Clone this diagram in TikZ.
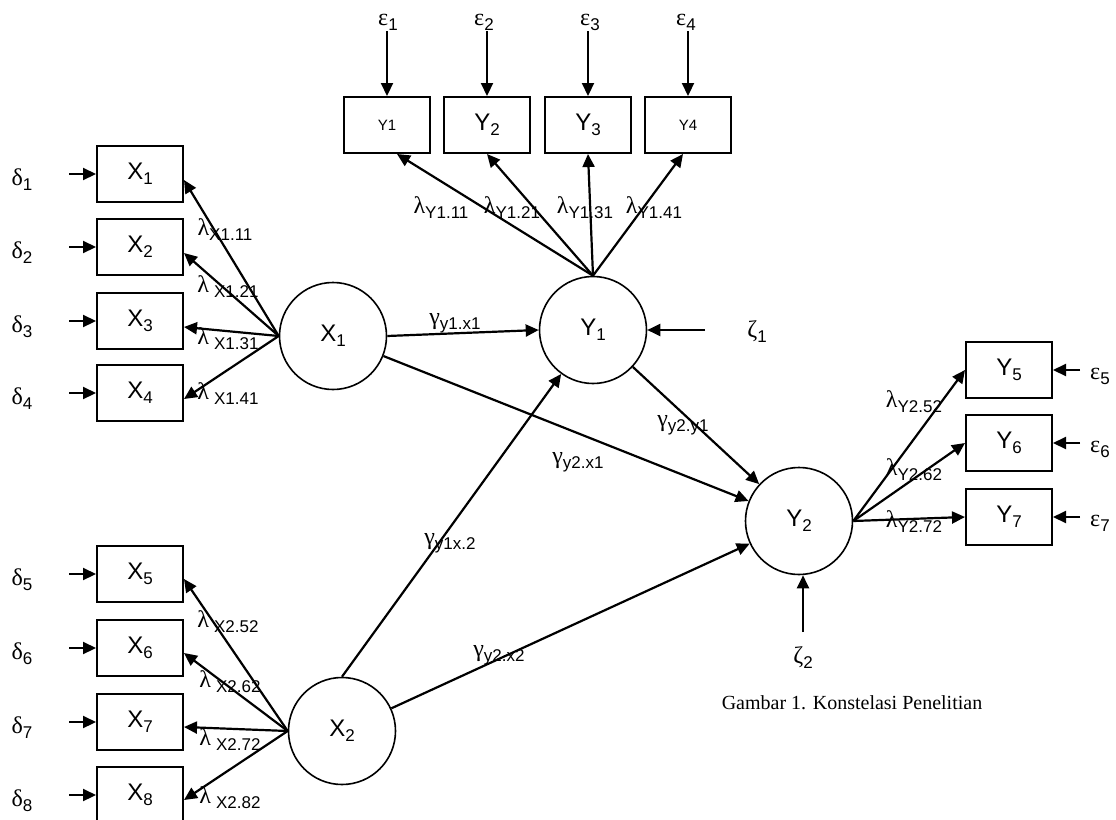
\documentclass[tikz,border=0pt]{standalone}
\usepackage{fontspec}
\setmainfont{Liberation Sans}
\newfontfamily\grkfont{Liberation Serif}
\usetikzlibrary{arrows.meta,positioning}

% greek letter, subscript and box label
\newcommand{\gk}[1]{{\grkfont\fontsize{24}{26}\selectfont #1}}
\newcommand{\lo}[1]{\raisebox{-5pt}{\fontsize{17}{19}\selectfont #1}}
\newcommand{\lam}[1]{\gk{λ}\lo{#1}}
\newcommand{\lams}[1]{\gk{λ}\hspace{5pt}\lo{#1}}
\newcommand{\gam}[1]{\gk{γ}\lo{#1}}
\newcommand{\bl}[2]{{\fontsize{24}{28}\selectfont #1}\raisebox{-5pt}{\fontsize{17}{19}\selectfont #2}}

\begin{document}
\begin{tikzpicture}[x=1pt,y=-1pt,
  mvar/.style={draw, line width=2pt, minimum width=86pt, minimum height=56pt, inner sep=0pt},
  lvar/.style={draw, circle, line width=1.6pt, minimum size=107pt, inner sep=0pt},
  arr/.style={-{Triangle[length=13pt,width=12pt]}, line width=2.2pt},
  lbl/.style={inner sep=1pt}]
  \useasboundingbox (0,0) rectangle (1116,819);

  % latent variables
  \node[lvar] (lx1) at (333,336) {\bl{X}{1}};
  \node[lvar] (lx2) at (342,731) {\bl{X}{2}};
  \node[lvar] (ly1) at (593,330) {\bl{Y}{1}};
  \node[lvar] (ly2) at (799,521) {\bl{Y}{2}};

  % X indicators
  \foreach \i/\y in {1/174,2/247,3/321,4/393,5/574,6/648,7/722,8/795} {
    \node[mvar] (x\i) at (140,\y) {\bl{X}{\i}};
    \node[lbl] (d\i) at (22,\y+6) {\gk{δ}\lo{\i}};
    \draw[arr] ([xshift=-27pt]x\i.west) -- (x\i.west);
  }
  \foreach \i in {1,...,4}
    \draw[arr] (lx1.west) -- ([yshift=-6pt]x\i.east);
  \foreach \i in {5,...,8}
    \draw[arr] (lx2.west) -- ([yshift=-5pt]x\i.east);

  \node[lbl] (lx11) at (225,230) {\lam{X1.11}};
  \node[lbl] (lx21) at (228,287) {\lams{X1.21}};
  \node[lbl] (lx31) at (228,339) {\lams{X1.31}};
  \node[lbl] (lx41) at (228,394) {\lams{X1.41}};
  \node[lbl] (lx52) at (228,622) {\lams{X2.52}};
  \node[lbl] (lx62) at (230,682) {\lams{X2.62}};
  \node[lbl] (lx72) at (230,740) {\lams{X2.72}};
  \node[lbl] (lx82) at (230,798) {\lams{X2.82}};

  % Y1 indicators
  \node[mvar] (y1) at (387,125) {\raisebox{-6pt}{\fontsize{15}{17}\selectfont Y1}};
  \node[mvar] (y2) at (487,125) {\bl{Y}{2}};
  \node[mvar] (y3) at (588,125) {\bl{Y}{3}};
  \node[mvar] (y4) at (688,125) {\raisebox{-6pt}{\fontsize{15}{17}\selectfont Y4}};
  \foreach \i/\x in {1/388,2/484,3/590,4/686} {
    \node[lbl] (e\i) at (\x,22) {\gk{ε}\lo{\i}};
    \draw[arr] (y\i.north |- e\i.south) -- (y\i.north);
  }
  \draw[arr] (ly1.north) -- ([xshift=10pt]y1.south);
  \draw[arr] (ly1.north) -- (y2.south);
  \draw[arr] (ly1.north) -- (y3.south);
  \draw[arr] (ly1.north) -- ([xshift=-5pt]y4.south);
  \node[lbl] (ly11) at (441,208) {\lam{Y1.11}};
  \node[lbl] (ly21) at (512,208) {\lam{Y1.21}};
  \node[lbl] (ly31) at (585,208) {\lam{Y1.31}};
  \node[lbl] (ly41) at (654,208) {\lam{Y1.41}};

  % Y2 indicators
  \foreach \i/\y in {5/370,6/443,7/517} {
    \node[mvar] (y\i) at (1009,\y) {\bl{Y}{\i}};
    \node[lbl] (e\i) at (1100,\y+6) {\gk{ε}\lo{\i}};
    \draw[arr] ([xshift=27pt]y\i.east) -- (y\i.east);
    \draw[arr] (ly2.east) -- (y\i.west);
  }
  \node[lbl] (ly52) at (914,402) {\lam{Y2.52}};
  \node[lbl] (ly62) at (914,470) {\lam{Y2.62}};
  \node[lbl] (ly72) at (914,522) {\lam{Y2.72}};

  % disturbances
  \coordinate (zs1) at (705,330);
  \draw[arr] (zs1) -- (ly1.east);
  \node[lbl] (z1) at (757,332) {\gk{ζ}\lo{1}};
  \coordinate (zs2) at (803,632);
  \draw[arr] (zs2) -- (zs2 |- ly2.south);
  \node[lbl] (z2) at (803,658) {\gk{ζ}\lo{2}};

  % structural paths
  \draw[arr] (lx1.east) -- (ly1.west);
  \draw[arr] (lx1) -- (ly2);
  \draw[arr] (ly1) -- (ly2);
  \draw[arr] (lx2.north) -- (ly1);
  \draw[arr] (lx2) -- (ly2);
  \node[lbl] (gy1x1) at (455,323) {\gam{y1.x1}};
  \node[lbl] (gy2y1) at (683,425) {\gam{y2.y1}};
  \node[lbl] (gy2x1) at (578,462) {\gam{y2.x1}};
  \node[lbl] (gy1x2) at (450,543) {\gam{y1x.2}};
  \node[lbl] (gy2x2) at (499,655) {\gam{y2.x2}};

  \node[lbl] (cap) at (852,703) {\grkfont\fontsize{20}{23}\selectfont Gambar 1. Konstelasi Penelitian};
\end{tikzpicture}
\end{document}
